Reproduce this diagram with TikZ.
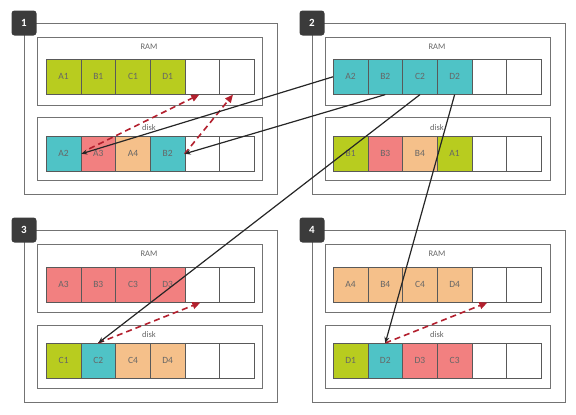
\documentclass[tikz,border=0pt]{standalone}
\usepackage{fontspec}
\setmainfont{Carlito}
\usetikzlibrary{arrows.meta}
\definecolor{cLime}{HTML}{B8CC1F}
\definecolor{cTeal}{HTML}{4FC3C6}
\definecolor{cPink}{HTML}{F28080}
\definecolor{cPeach}{HTML}{F5C08A}
\definecolor{cSwap}{HTML}{B3202E}
\definecolor{cBadge}{HTML}{3B3B3B}

\begin{document}
\begin{tikzpicture}[x=1pt, y=-1pt,
    box/.style={draw=black!55, line width=0.8pt},
    cell/.style={draw=black!65, line width=0.6pt, minimum width=34.67pt, minimum height=35pt,
      inner sep=0pt, anchor=north west, text=black!60, font=\fontsize{9.5}{10}\selectfont},
    boxtitle/.style={text=black!60, font=\fontsize{8.5}{9}\selectfont},
    badge/.style={fill=cBadge, rounded corners=3pt, minimum size=25pt, inner sep=0pt,
      text=white, font=\fontsize{11}{12}\selectfont\bfseries},
    move/.style={draw=black!85, line width=1.2pt, -{Stealth[length=6pt,width=5pt]}},
    swap/.style={draw=cSwap, line width=1.6pt, dash pattern=on 6pt off 4pt,
      -{Triangle[length=8pt,width=7pt]}}]
    \useasboundingbox (0,0) rectangle (576,415);
    \begin{scope}[shift={(24,23)}]
      \draw[box] (0,0) rectangle (253,171);
      \draw[box] (13,14) rectangle (238,82);
      \draw[box] (13,94) rectangle (238,157);
      \node[boxtitle] (ramtitle1) at (125,24) {RAM};
      \node[boxtitle] (disktitle1) at (125,105) {disk};
      \foreach \t/\c [count=\i] in {A1/cLime, B1/cLime, C1/cLime, D1/cLime, /white, /white}
        \node[cell, fill=\c] (ram1-\i) at ({22+34.67*(\i-1)},36) {\t};
      \foreach \t/\c [count=\i] in {A2/cTeal, A3/cPink, A4/cPeach, B2/cTeal, /white, /white}
        \node[cell, fill=\c] (disk1-\i) at ({22+34.67*(\i-1)},113) {\t};
      \node[badge] (badge1) at (0,0) {1};
    \end{scope}
    \begin{scope}[shift={(312,23)}]
      \draw[box] (0,0) rectangle (253,171);
      \draw[box] (13,14) rectangle (238,82);
      \draw[box] (13,94) rectangle (238,157);
      \node[boxtitle] (ramtitle2) at (125,24) {RAM};
      \node[boxtitle] (disktitle2) at (125,105) {disk};
      \foreach \t/\c [count=\i] in {A2/cTeal, B2/cTeal, C2/cTeal, D2/cTeal, /white, /white}
        \node[cell, fill=\c] (ram2-\i) at ({21+34.67*(\i-1)},36) {\t};
      \foreach \t/\c [count=\i] in {B1/cLime, B3/cPink, B4/cPeach, A1/cLime, /white, /white}
        \node[cell, fill=\c] (disk2-\i) at ({21+34.67*(\i-1)},113) {\t};
      \node[badge] (badge2) at (0,0) {2};
    \end{scope}
    \begin{scope}[shift={(24,230)}]
      \draw[box] (0,0) rectangle (253,172);
      \draw[box] (13,14) rectangle (238,82);
      \draw[box] (13,95) rectangle (238,158);
      \node[boxtitle] (ramtitle3) at (125,24) {RAM};
      \node[boxtitle] (disktitle3) at (125,105) {disk};
      \foreach \t/\c [count=\i] in {A3/cPink, B3/cPink, C3/cPink, D3/cPink, /white, /white}
        \node[cell, fill=\c] (ram3-\i) at ({22+34.67*(\i-1)},37) {\t};
      \foreach \t/\c [count=\i] in {C1/cLime, C2/cTeal, C4/cPeach, D4/cPeach, /white, /white}
        \node[cell, fill=\c] (disk3-\i) at ({22+34.67*(\i-1)},113) {\t};
      \node[badge] (badge3) at (0,0) {3};
    \end{scope}
    \begin{scope}[shift={(312,230)}]
      \draw[box] (0,0) rectangle (253,172);
      \draw[box] (13,14) rectangle (238,82);
      \draw[box] (13,95) rectangle (238,158);
      \node[boxtitle] (ramtitle4) at (125,24) {RAM};
      \node[boxtitle] (disktitle4) at (125,105) {disk};
      \foreach \t/\c [count=\i] in {A4/cPeach, B4/cPeach, C4/cPeach, D4/cPeach, /white, /white}
        \node[cell, fill=\c] (ram4-\i) at ({21+34.67*(\i-1)},37) {\t};
      \foreach \t/\c [count=\i] in {D1/cLime, D2/cTeal, D3/cPink, C3/cPink, /white, /white}
        \node[cell, fill=\c] (disk4-\i) at ({21+34.67*(\i-1)},113) {\t};
      \node[badge] (badge4) at (0,0) {4};
    \end{scope}
    % swaps inside each step
    \draw[swap] ([shift={(8,-5)}]disk1-1.east) -- ([xshift=-3]ram1-5.south);
    \draw[swap] (disk1-5.west) -- ([xshift=-4]ram1-6.south);
    \draw[swap] (disk3-2.north) -- ([xshift=-2]ram3-5.south);
    \draw[swap] (disk4-2.north) -- ([xshift=-2]ram4-5.south);
    % pages moved out of step 2
    \draw[move] (ram2-1.west) -- (disk1-1.east);
    \draw[move] (ram2-2.south) -- (disk1-5.west);
    \draw[move] (ram2-3.south) -- (disk3-2.north);
    \draw[move] (ram2-4.south) -- (disk4-2.north);
\end{tikzpicture}
\end{document}
